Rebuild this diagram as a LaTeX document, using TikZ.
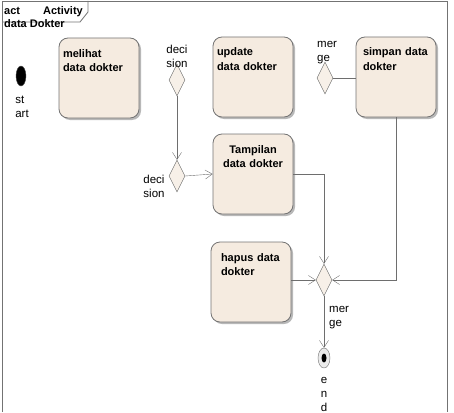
\documentclass[tikz,border=0pt]{standalone}
\usepackage{fontspec}
\setmainfont{Liberation Sans}
\usetikzlibrary{arrows.meta}
\usetikzlibrary{positioning}
\usetikzlibrary{shapes.geometric}
\usetikzlibrary{shadows}
\definecolor{actfill}{HTML}{F5EBE0}
\definecolor{gatefill}{HTML}{F7F0E8}
\definecolor{linegray}{HTML}{6E6E6E}

\begin{document}
\begin{tikzpicture}
    [x=1pt,y=-1pt,
    action/.style={rectangle,rounded corners=9pt,draw=black!55,fill=actfill,thick,
      drop shadow={shadow xshift=2pt,shadow yshift=-2pt,fill=black!35,opacity=.8},
      inner sep=4pt,text width=72pt,text height=15pt,text depth=57pt,
      align=left,font=\bfseries\fontsize{11}{14}\selectfont},
    gate/.style={diamond,draw=linegray,fill=gatefill,
      inner sep=0pt,minimum width=16pt,minimum height=32pt},
    tag/.style={align=left,inner sep=0pt,font=\fontsize{11.5}{14}\selectfont},
    flow/.style={draw=linegray,-{Straight Barb[length=7pt,width=9pt]}},
    frame/.style={draw=black!55,thick}]

    \useasboundingbox (0,0) rectangle (454,412);

    % frame and tab
    \draw[frame] (2,412) -- (2,1) -- (447,1) -- (447,412);
    \draw[frame] (2,22) -- (80,22) -- (88,12) -- (88,1);
    \node (title) at (4,6) [anchor=north west,align=left,inner sep=0pt,
      font=\bfseries\fontsize{11}{13}\selectfont]
      {act\hspace{23pt}Activity\\data Dokter};

    \node (start)     at ( 21,76) [ellipse,fill=black,draw=black!70,
      inner sep=0pt,minimum width=10pt,minimum height=20pt] {};
    \node (start tag) at ( 22,107) [tag] {st\\art};

    \node (melihat)  at ( 99, 78) [action] {melihat\\data dokter};
    \node (update)   at (253, 77) [action] {update\\data dokter};
    \node (simpan)   at (396, 77) [action,inner xsep=7pt,text width=66pt] {simpan data\\dokter};
    \node (tampil)   at (253,174) [action,align=center] {Tampilan\\data dokter};
    \node (hapus)    at (251,282) [action,inner xsep=10pt,text width=60pt] {hapus data\\dokter};

    \node (decision 1) at (177, 80) [gate] {};
    \node (decision 2) at (177,176) [gate] {};
    \node (merge 1)    at (325, 78) [gate] {};
    \node (merge 2)    at (324,280) [gate] {};

    \node (decision 1 tag) at (177, 56) [tag] {deci\\sion};
    \node (decision 2 tag) at (154,186) [tag] {deci\\sion};
    \node (merge 1 tag)    at (317, 41) [tag,anchor=north west] {mer\\ge};
    \node (merge 2 tag)    at (329,306) [tag,anchor=north west] {mer\\ge};

    \node (end) at (324,358) [ellipse,draw=linegray,fill=black!8,
      inner sep=0pt,minimum width=12pt,minimum height=20pt] {};
    \node (end dot) at (end) [ellipse,fill=black,inner sep=0pt,
      minimum width=5pt,minimum height=9pt] {};
    \node (end tag) at (324,394) [tag,align=center] {e\\n\\d};

    \draw[flow] (decision 1.south) -- (decision 2.north);
    \draw[flow] (decision 2.east) -- (tampil.west);
    \draw[draw=linegray] (merge 1.east) -- (simpan.west |- merge 1.east);
    \draw[flow] (tampil.east |- 0,174) -| (merge 2.north);
    \draw[flow] (simpan.south) |- (merge 2.east);
    \draw[flow] (hapus.east |- merge 2.west) -- (merge 2.west);
    \draw[flow] (merge 2.south) -- (end.north);

  \end{tikzpicture}
\end{document}
